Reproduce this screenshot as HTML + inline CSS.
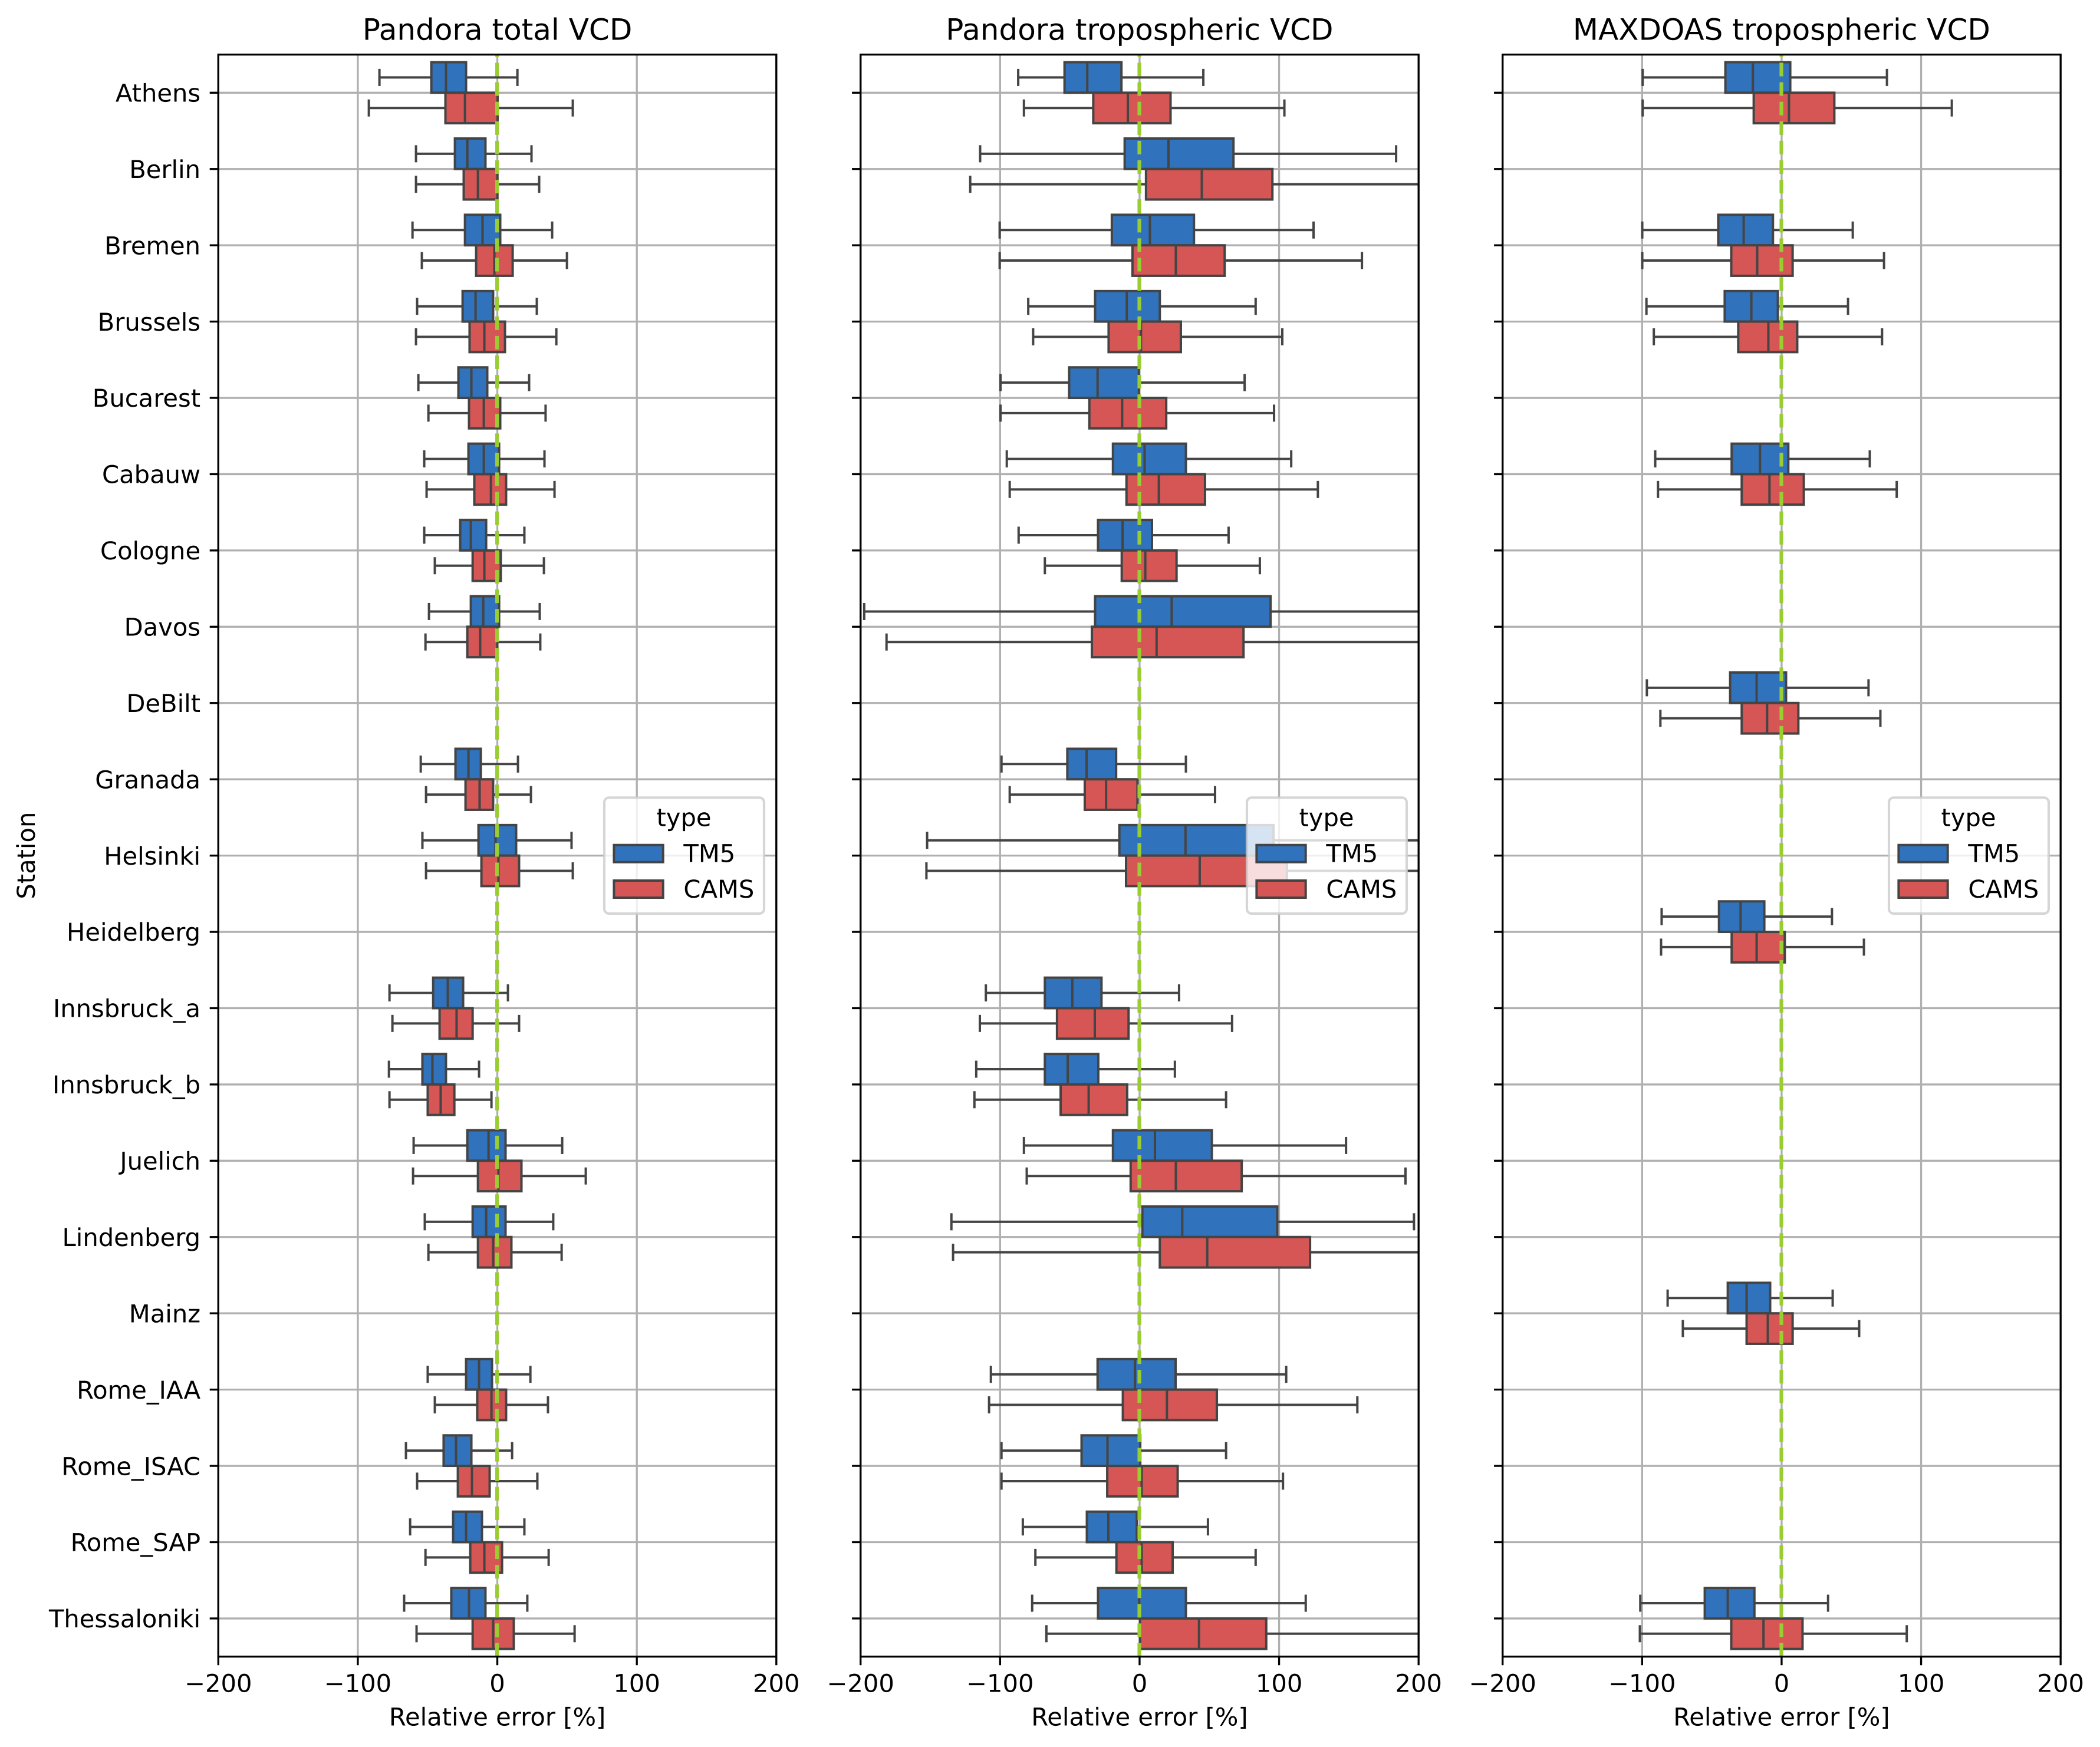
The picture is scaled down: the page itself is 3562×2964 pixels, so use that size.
<!DOCTYPE html>
<html lang="en">
<head>
<meta charset="utf-8">
<title>Relative error box plots</title>
<style>
html,body{margin:0;padding:0;background:#fff;}
svg{display:block;}
text{font-family:"DejaVu Sans","Liberation Sans",sans-serif;fill:#000;text-rendering:geometricPrecision;}
</style>
</head>
<body>
<svg id="figure" xmlns="http://www.w3.org/2000/svg" width="3562" height="2964" viewBox="0 0 3562 2964">
<rect x="0" y="0" width="3562" height="2964" fill="#ffffff"/>
<text transform="translate(59,1451.6) rotate(-90)" text-anchor="middle" font-size="41.67">Station</text>
<text x="843.6" y="67.5" text-anchor="middle" font-size="50">Pandora total VCD</text>
<text x="1932.9" y="67.5" text-anchor="middle" font-size="50">Pandora tropospheric VCD</text>
<text x="3021.9" y="67.5" text-anchor="middle" font-size="50">MAXDOAS tropospheric VCD</text>
<text x="843.6" y="2927.5" text-anchor="middle" font-size="41.67">Relative error [%]</text>
<text x="1932.9" y="2927.5" text-anchor="middle" font-size="41.67">Relative error [%]</text>
<text x="3021.9" y="2927.5" text-anchor="middle" font-size="41.67">Relative error [%]</text>
</svg>
<script>
// ---- chart data: each box is [lower whisker, q1, median, q3, upper whisker], null = no data ----
const stations = ["Athens","Berlin","Bremen","Brussels","Bucarest","Cabauw","Cologne","Davos","DeBilt","Granada","Helsinki","Heidelberg","Innsbruck_a","Innsbruck_b","Juelich","Lindenberg","Mainz","Rome_IAA","Rome_ISAC","Rome_SAP","Thessaloniki"];
const xTickValues = [-200,-100,0,100,200];
const xTickLabels = ["\u2212200","\u2212100","0","100","200"];
const seriesNames = ["TM5","CAMS"];

const pandoraTotalTM5 = [
[-84.5,-47.3,-36.8,-22.4,14.4],[-58.3,-30.4,-21.5,-8.5,24.5],[-60.8,-23.2,-10.6,2.1,39.3],[-57.5,-24.9,-15.6,-3,28.3],
[-56.6,-27.9,-18.6,-7.2,22.8],[-52.4,-20.7,-9.7,1.3,33.8],[-52.4,-26.6,-19,-8,19.4],[-49,-19,-10.1,1.3,30.4],null,
[-54.9,-30,-20.7,-11.8,14.8],[-53.7,-13.5,-1.3,13.5,53.2],null,[-77.3,-46,-35.5,-24.5,7.6],[-77.7,-53.7,-46.5,-36.8,-13.1],
[-60,-21.5,-6.3,5.9,46.5],[-52,-17.7,-8,5.9,40.1],null,[-49.9,-22.4,-13.1,-3.8,23.7],[-65.5,-38.5,-29.6,-18.6,10.6],
[-62.5,-31.7,-22.4,-11,19.4],[-66.8,-33,-20.3,-8.5,21.5]];
const pandoraTotalCAMS = [
[-92.1,-37.2,-23.2,0.2,54.1],[-58.3,-24.1,-13.9,0.1,30],[-54.1,-15.2,-2.1,11,49.9],[-58.3,-19.9,-9.3,5.5,42.3],
[-49.4,-20.3,-9.7,2.1,34.6],[-50.7,-16.5,-4.6,6.3,41],[-44.8,-17.7,-9.3,2.5,33.4],[-51.5,-21.5,-12.3,0,30.8],null,
[-51.1,-22.8,-12.7,-3,24.1],[-51.1,-11.4,0.8,15.6,54.1],null,[-75.2,-41.4,-29.2,-17.7,15.6],[-77.3,-49.9,-40.6,-30.8,-4.2],
[-60.4,-13.9,0.8,17.3,63.4],[-49.4,-13.9,-3,10.1,46.1],null,[-44.8,-14.4,-4.2,6.3,36.3],[-57.5,-28.3,-18.2,-5.5,28.7],
[-51.5,-19.4,-9.3,3.4,36.8],[-57.9,-17.7,-3,11.8,55.4]];

const pandoraTropTM5 = [
[-87,-53.8,-37.5,-13,45.7],[-114.3,-10.7,20.7,67.3,183.9],[-100.3,-19.9,7.4,39,124.7],[-79.8,-31.9,-9.2,14.5,83.2],
[-99.7,-50.5,-30.1,-0.5,75.3],[-95.2,-19.1,3.6,33.2,108.7],[-86.7,-29.8,-12.2,8.9,63.8],[-197.4,-31.9,23,93.9,250],null,
[-99,-51.8,-38,-16.8,33.2],[-152.3,-14.5,32.9,96,220],null,[-110.2,-67.9,-48.2,-27.3,28.3],[-117.1,-67.9,-51.5,-29.6,25.3],
[-82.9,-19.1,11,51.8,148],[-134.9,2,30.6,98.7,196.7],null,[-106.6,-30.1,-3.3,25.8,105.1],[-99,-41.6,-23,0.5,62],
[-83.7,-37.8,-22.4,-2,49],[-77,-29.8,-0.3,33.2,119.1]];
const pandoraTropCAMS = [
[-82.9,-33.2,-8.4,22.2,103.8],[-121.4,4.6,44.6,95.2,215],[-100.3,-5.1,26,61,159.4],[-76.3,-22.2,1,29.6,102.3],
[-99.7,-36,-12.5,19.1,96.4],[-93.1,-9.4,13.8,46.9,127.8],[-67.9,-12.8,4.1,26.5,86.2],[-181.4,-34.2,12.2,74.5,230],null,
[-93.1,-39.3,-24,-1.5,54.1],[-152.8,-9.7,43.1,105.6,225],null,[-114.5,-59.2,-32.1,-7.9,66.3],[-118.4,-56.6,-36.5,-8.9,62],
[-80.9,-6.4,26,73.2,190.6],[-133.7,14.5,48.5,122.2,225],null,[-107.9,-12,19.6,55.4,156.1],[-99,-23.2,1.5,27.3,102.8],
[-74.7,-16.6,1.5,23.7,83.2],[-66.8,0.3,42.6,90.8,210]];

const maxdoasTropTM5 = [
[-99.6,-40.3,-20.6,6.2,75.5],null,[-99.9,-45.4,-27.2,-6.2,51],[-96.9,-40.8,-21.7,-2.7,47.6],null,
[-90.6,-35.8,-15.5,4.8,63.2],null,null,[-96.6,-36.9,-17.9,3.2,62.3],null,null,[-86,-44.9,-29.4,-12.4,36.1],null,null,null,null,
[-81.7,-38.6,-25.1,-8.2,36.6],null,null,null,[-101.3,-55.1,-38.6,-19.5,33.3]];
const maxdoasTropCAMS = [
[-99.6,-20,5.3,37.8,122],null,[-99.9,-36.1,-17.5,7.9,73.4],[-91.6,-31.1,-9.5,11.2,72],null,
[-88.6,-28.6,-8.7,15.9,82.5],null,null,[-86.9,-28.6,-10.4,12,70.8],null,null,[-86.4,-35.8,-17.9,2.3,59],null,null,null,null,
[-70.8,-25.1,-9.9,7.9,55.6],null,null,null,[-101.6,-36.1,-13,15,89.7]];

// ---- layout ----
const svg = document.getElementById('figure');
const NS = 'http://www.w3.org/2000/svg';
const axTop = 92.6, rowH = 129.43, axH = rowH * stations.length, axW = 946.5;
const boxColors = ['#3072bc', '#d65555'];
const lineColor = '#444444';
const boxLW = 4, gridLW = 3.33, capHalf = 14.5, halfBand = 0.4;

function mk(tag, attrs, parent) {
  const el = document.createElementNS(NS, tag);
  for (const k in attrs) el.setAttribute(k, attrs[k]);
  parent.appendChild(el);
  return el;
}
function yScale(i) { return axTop + (i + 0.5) * rowH; }
function xScaleFor(left) { return function (v) { return left + (v + 200) / 400 * axW; }; }

function drawBox(g, x, box, cy, topY, botY, color, label) {
  const wy = (topY + botY) / 2;
  const lo = mk('line', {x1:x(box[0]), x2:x(box[1]), y1:wy, y2:wy, stroke:lineColor, 'stroke-width':boxLW}, g);
  
  
  const hi = mk('line', {x1:x(box[3]), x2:x(box[4]), y1:wy, y2:wy, stroke:lineColor, 'stroke-width':boxLW}, g);
  
  
  const c1 = mk('line', {x1:x(box[0]), x2:x(box[0]), y1:wy-capHalf, y2:wy+capHalf, stroke:lineColor, 'stroke-width':boxLW}, g);
  
  
  const c2 = mk('line', {x1:x(box[4]), x2:x(box[4]), y1:wy-capHalf, y2:wy+capHalf, stroke:lineColor, 'stroke-width':boxLW}, g);
  
  
  const r = mk('rect', {x:x(box[1]), y:topY, width:x(box[3])-x(box[1]), height:botY-topY, fill:color, stroke:lineColor, 'stroke-width':boxLW}, g);
  
  
  const m = mk('line', {x1:x(box[2]), x2:x(box[2]), y1:topY, y2:botY, stroke:lineColor, 'stroke-width':boxLW}, g);
  
  
}

function drawPanel(idx, left, tm5, cams, showLabels, key) {
  const x = xScaleFor(left);
  const axBottom = axTop + axH;
  const g = mk('g', {}, svg);
  
  

  const clip = mk('clipPath', {id:'clip' + idx}, g);
  mk('rect', {x:left, y:axTop, width:axW, height:axH}, clip);

  // grid
  xTickValues.forEach(function (v) {
    const l = mk('line', {x1:x(v), x2:x(v), y1:axTop, y2:axBottom, stroke:'#b0b0b0', 'stroke-width':gridLW}, g);
    
    
  });
  stations.forEach(function (s, i) {
    const l = mk('line', {x1:left, x2:left+axW, y1:yScale(i), y2:yScale(i), stroke:'#b0b0b0', 'stroke-width':gridLW}, g);
    
    
  });

  // boxes
  const marks = mk('g', {'clip-path':'url(#clip' + idx + ')'}, g);
  
  
  stations.forEach(function (s, i) {
    const cy = yScale(i);
    if (tm5[i]) drawBox(marks, x, tm5[i], cy, cy - halfBand*rowH, cy, boxColors[0], s + '-tm5');
    if (cams[i]) drawBox(marks, x, cams[i], cy, cy, cy + halfBand*rowH, boxColors[1], s + '-cams');
  });

  // zero reference line, drawn bottom to top so the dash phase starts at the axis
  const z = mk('line', {x1:x(0)-0.4, x2:x(0)-0.4, y1:axBottom, y2:axTop, stroke:'#9acd32', 'stroke-width':6.25, 'stroke-dasharray':'23.1 10'}, g);
  
  

  // ticks
  xTickValues.forEach(function (v, i) {
    const t = mk('line', {x1:x(v), x2:x(v), y1:axBottom, y2:axBottom+14.6, stroke:'#000', 'stroke-width':gridLW}, g);
    
    
    const lab = mk('text', {x:x(v), y:2870.5, 'text-anchor':'middle', 'font-size':41.67}, g);
    lab.textContent = xTickLabels[i];
    
    
  });
  stations.forEach(function (s, i) {
    const t = mk('line', {x1:left-14.6, x2:left, y1:yScale(i), y2:yScale(i), stroke:'#000', 'stroke-width':gridLW}, g);
    
    
    if (showLabels) {
      const lab = mk('text', {x:left-30.2, y:yScale(i)+15.2, 'text-anchor':'end', 'font-size':41.67}, g);
      lab.textContent = s;
      
      
    }
  });

  // spines
  const sp = mk('rect', {x:left, y:axTop, width:axW, height:axH, fill:'none', stroke:'#000', 'stroke-width':gridLW}, g);
  
  

  // legend
  const leg = mk('g', {}, g);
  
  
  const lx = Math.round(left) + 655, ly = 1353.3;
  const frame = mk('rect', {x:lx, y:ly, width:271, height:196.7, rx:8, ry:8, fill:'#ffffff', 'fill-opacity':0.8, stroke:'#cccccc', 'stroke-opacity':0.8, 'stroke-width':4.17}, leg);
  
  
  const title = mk('text', {x:lx+135, y:1401.5, 'text-anchor':'middle', 'font-size':41.67}, leg);
  title.textContent = 'type';
  
  
  seriesNames.forEach(function (name, i) {
    const hy = 1433.7 + i * 60.3;
    const h = mk('rect', {x:lx+16.4, y:hy, width:83.3, height:29, fill:boxColors[i], stroke:lineColor, 'stroke-width':boxLW}, leg);
    
    
    const t = mk('text', {x:lx+134.4, y:1462.3 + i * 60.6, 'font-size':41.67}, leg);
    t.textContent = name;
    
    
  });
}

drawPanel(0, 370.3, pandoraTotalTM5, pandoraTotalCAMS, true, 'pandora-total');
drawPanel(1, 1459.7, pandoraTropTM5, pandoraTropCAMS, false, 'pandora-tropospheric');
drawPanel(2, 2548.7, maxdoasTropTM5, maxdoasTropCAMS, false, 'maxdoas-tropospheric');
</script>
</body>
</html>
